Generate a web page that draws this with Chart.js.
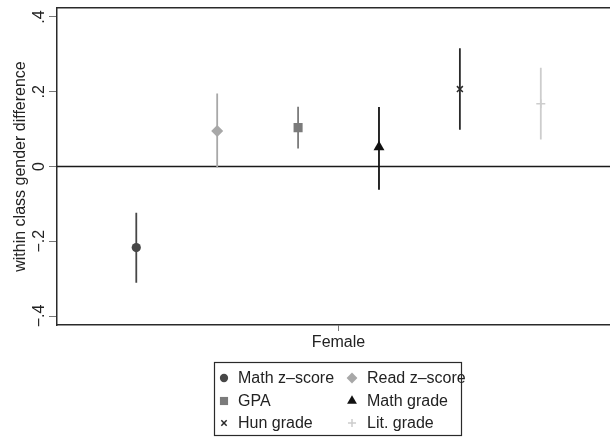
<!DOCTYPE html>
<html>
<head>
<meta charset="utf-8">
<script src="https://cdn.jsdelivr.net/npm/chart.js@4.4.1/dist/chart.umd.min.js"></script>
<style>
html,body{margin:0;padding:0;background:#fff;overflow:hidden}
#caja{width:610px;height:438px;overflow:hidden}
</style>
</head>
<body>
<div id="caja"><canvas id="myChart" width="620" height="438"></canvas></div>
<script>
var outcomes=['Math z\u2013score','Read z\u2013score','GPA','Math grade','Hun grade','Lit. grade'];
var estimate=[-0.217,0.095,0.104,0.052,0.207,0.168];
var ciLow=[-0.311,-0.003,0.048,-0.062,0.098,0.072];
var ciHigh=[-0.124,0.195,0.160,0.159,0.316,0.264];
var yTicks=[-0.4,-0.2,0,0.2,0.4];
var yTickLabels=['\u2212.4','\u2212.2','0','.2','.4'];
var xLabel='Female';
var yTitle='within class gender difference';

var colores=['#474747','#a8a8a8','#7b7b7b','#111111','#2a2a2a','#cdcdcd'];
var simbolos=['circle','rectRot','rect','triangle','crossRot','cross'];
var tamanos=[4.6,6,6.4,6.3,4.2,4.5];
var fuente={family:'"Liberation Sans", Arial, Helvetica, sans-serif',size:16};

var datasets=[];
// linea del cero
datasets.push({label:'cero',data:[{x:-1,y:0},{x:9,y:0}],showLine:true,borderColor:'#1a1a1a',borderWidth:1.4,pointRadius:0,order:3});
for(var i=0;i<outcomes.length;i++){
	datasets.push({label:outcomes[i]+' CI',data:[{x:i+1,y:ciLow[i]},{x:i+1,y:ciHigh[i]}],showLine:true,
		borderColor:colores[i],borderWidth:1.8,pointRadius:0,order:2});
	var cruz=(simbolos[i]=='cross'||simbolos[i]=='crossRot');
	datasets.push({label:outcomes[i],data:[{x:i+1,y:estimate[i]}],pointStyle:simbolos[i],pointRadius:tamanos[i],
		pointHoverRadius:tamanos[i],backgroundColor:colores[i],borderColor:colores[i],borderWidth:cruz?1.5:0,order:1});
}

var leyendaBox={
	id:'leyendaBox',
	afterDraw:function(chart){
		var ctx=chart.ctx;
		ctx.save();
		ctx.strokeStyle='#2a2a2a';
		ctx.lineWidth=1.2;
		ctx.strokeRect(214.5,362.5,247,73);
		ctx.font='16px "Liberation Sans", Arial, Helvetica, sans-serif';
		ctx.textBaseline='middle';
		ctx.textAlign='left';
		var filas=[378,401,423];
		var colM=[224,352];
		var colT=[238,367];
		for(var i=0;i<outcomes.length;i++){
			var f=Math.floor(i/2),c=i%2;
			var cruz=(simbolos[i]=='cross'||simbolos[i]=='crossRot');
			ctx.fillStyle=colores[i];
			ctx.strokeStyle=colores[i];
			ctx.lineWidth=cruz?1.5:0;
			Chart.helpers.drawPoint(ctx,{pointStyle:simbolos[i],radius:tamanos[i]*0.9,borderWidth:cruz?1.5:0,rotation:0},colM[c],filas[f]);
			ctx.fillStyle='#222';
			ctx.fillText(outcomes[i],colT[c],filas[f]+1);
		}
		ctx.restore();
	}
};

var ctx=document.getElementById('myChart').getContext('2d');
var grafico=new Chart(ctx,{
	type:'scatter',
	data:{datasets:datasets},
	plugins:[leyendaBox],
	options:{
		responsive:false,
		animation:false,
		layout:{padding:{left:0,top:8,right:2,bottom:0}},
		plugins:{legend:{display:false},tooltip:{enabled:false}},
		scales:{
			x:{
				type:'linear',min:0.02,max:6.9,
				afterBuildTicks:function(s){s.ticks=[{value:3.5}];},
				afterFit:function(s){s.height=113;},
				ticks:{callback:function(){return xLabel;},font:fuente,color:'#222',padding:2,maxRotation:0},
				grid:{drawOnChartArea:false,tickLength:6,tickColor:'#777'},
				border:{color:'#2a2a2a',width:1.5}
			},
			x2:{
				type:'linear',position:'top',min:0,max:1,
				afterFit:function(s){s.height=0;},
				ticks:{display:false},
				grid:{display:false},
				border:{display:true,color:'#2a2a2a',width:1.5}
			},
			y:{
				min:-0.424,max:0.424,
				afterBuildTicks:function(s){s.ticks=yTicks.map(function(v){return {value:v};});},
				afterFit:function(s){s.width=57;},
				ticks:{callback:function(v){return yTickLabels[yTicks.indexOf(v)];},minRotation:90,maxRotation:90,
					crossAlign:'center',padding:-2,font:fuente,color:'#222'},
				grid:{drawOnChartArea:false,tickLength:8,tickColor:'#777'},
				border:{color:'#2a2a2a',width:1.5},
				title:{display:true,text:yTitle,font:fuente,color:'#222',padding:{top:11,bottom:0}}
			}
		}
	}
});
</script>
</body>
</html>
